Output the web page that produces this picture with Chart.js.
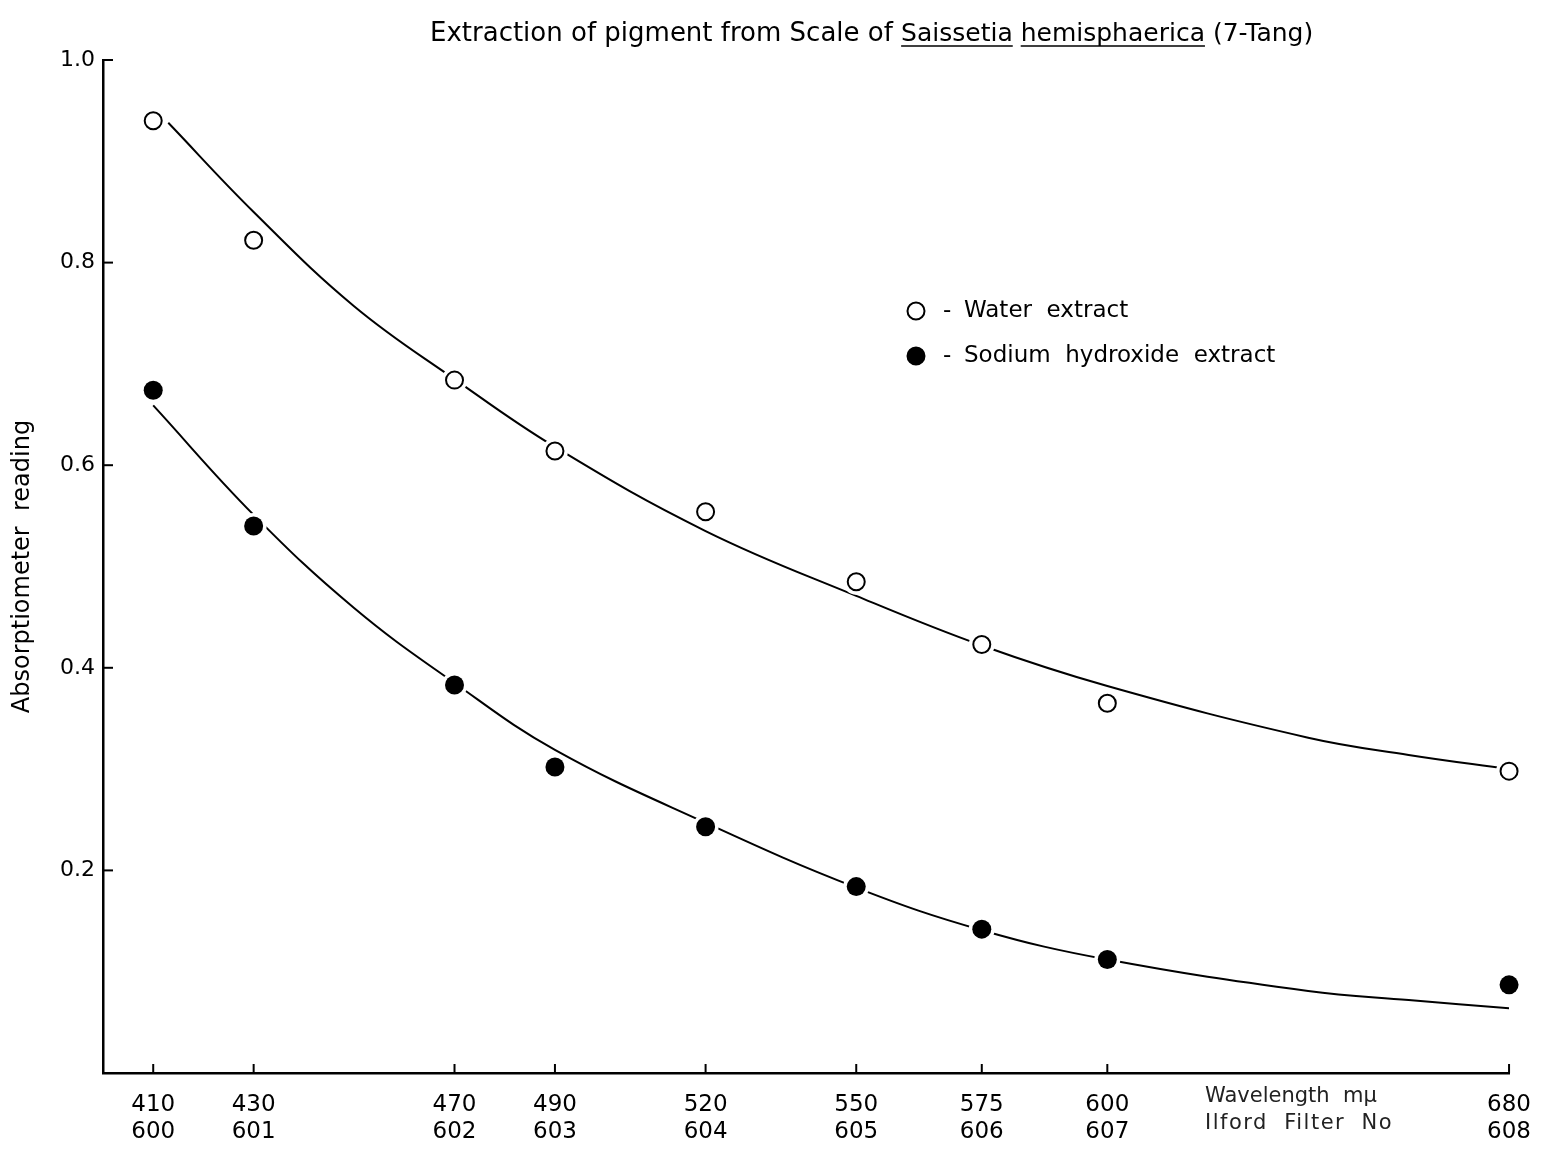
<!DOCTYPE html>
<html><head><meta charset="utf-8">
<script src="https://cdn.jsdelivr.net/npm/chart.js@4.4.1/dist/chart.umd.min.js"></script>
<style>html,body{margin:0;padding:0;background:#fff;}canvas{display:block;}</style>
</head><body>
<canvas id="c" width="1549" height="1149"></canvas>
<script>
// ---- data ----
const wavelengths = [410, 430, 470, 490, 520, 550, 575, 600, 680];
const filterNumbers = ['600', '601', '602', '603', '604', '605', '606', '607', '608'];
const waterExtract = [0.940, 0.822, 0.684, 0.614, 0.554, 0.485, 0.423, 0.365, 0.298];
const sodiumHydroxideExtract = [0.674, 0.540, 0.383, 0.302, 0.243, 0.184, 0.142, 0.112, 0.087];
// hand-drawn fitted curves
const waterCurveX = [413, 430, 450, 470, 490, 520, 550, 575, 600, 640, 660, 680];
const waterCurveY = [0.938, 0.850, 0.757, 0.685, 0.618, 0.535, 0.471, 0.422, 0.382, 0.331, 0.314, 0.300];
const sodiumCurveX = [410, 430, 450, 470, 490, 520, 550, 575, 600, 640, 660, 680];
const sodiumCurveY = [0.659, 0.551, 0.459, 0.385, 0.319, 0.247, 0.183, 0.141, 0.112, 0.081, 0.072, 0.064];
const yTickValues = [0.2, 0.4, 0.6, 0.8, 1.0];
const seriesNames = ['Water  extract', 'Sodium  hydroxide  extract'];
const axisTitleY = 'Absorptiometer  reading';
const axisNoteLines = ['Wavelength  m\u03bc', 'Ilford  Filter  No'];
const titleParts = [
  {text: 'Extraction of pigment from Scale of ', underline: false, size: 26},
  {text: 'Saissetia', underline: true, size: 25},
  {text: ' ', underline: false, size: 25},
  {text: 'hemisphaerica', underline: true, size: 25},
  {text: ' (7-Tang)', underline: false, size: 25}
];

const pts = (xs, ys) => xs.map((v, i) => ({x: v, y: ys[i]}));
const FONT = '"DejaVu Sans", "Liberation Sans", sans-serif';

const decor = {
  id: 'decor',
  afterDraw(chart) {
    const {ctx, chartArea: ca, scales: {x, y}} = chart;
    ctx.save();
    ctx.strokeStyle = '#000';
    ctx.fillStyle = '#000';
    ctx.lineWidth = 2;
    // inward tick marks
    wavelengths.forEach(v => {
      const px = x.getPixelForValue(v);
      ctx.beginPath(); ctx.moveTo(px, ca.bottom); ctx.lineTo(px, ca.bottom - 9); ctx.stroke();
    });
    yTickValues.forEach(v => {
      const py = y.getPixelForValue(v);
      ctx.beginPath(); ctx.moveTo(ca.left, py); ctx.lineTo(ca.left + 10, py); ctx.stroke();
    });
    // title with underlined species name
    ctx.textBaseline = 'alphabetic';
    ctx.textAlign = 'left';
    let tx = 430;
    const tb = 41;
    titleParts.forEach(p => {
      ctx.font = p.size + 'px ' + FONT;
      const w = ctx.measureText(p.text).width;
      ctx.fillText(p.text, tx, tb);
      if (p.underline) {
        ctx.lineWidth = 1.6;
        ctx.beginPath(); ctx.moveTo(tx, tb + 5); ctx.lineTo(tx + w, tb + 5); ctx.stroke();
      }
      tx += w;
    });
    // legend
    const ds = chart.data.datasets;
    const legendRows = [{y: 311, ds: ds[0], name: seriesNames[0]}, {y: 356, ds: ds[1], name: seriesNames[1]}];
    ctx.font = '23px ' + FONT;
    ctx.textBaseline = 'middle';
    legendRows.forEach(r => {
      ctx.beginPath();
      ctx.arc(916, r.y, 8.5, 0, Math.PI * 2);
      ctx.fillStyle = r.ds.pointBackgroundColor;
      ctx.fill();
      ctx.lineWidth = 2;
      ctx.strokeStyle = '#000';
      ctx.stroke();
      ctx.fillStyle = '#000';
      ctx.fillText('-', 943, r.y);
      ctx.fillText(r.name, 964, r.y);
    });
    // axis note (wavelength / filter rows)
    ctx.font = '21px ' + FONT;
    ctx.fillStyle = '#222';
    ctx.fillText(axisNoteLines[0], 1205, 1097);
    if ('letterSpacing' in ctx) ctx.letterSpacing = '1.5px';
    ctx.fillText(axisNoteLines[1], 1205, 1124);
    ctx.restore();
  }
};

new Chart(document.getElementById('c'), {
  type: 'scatter',
  data: {
    datasets: [
      {label: seriesNames[0], data: pts(wavelengths, waterExtract), pointRadius: 8.5, pointBorderWidth: 2,
       pointBackgroundColor: '#ffffff', pointBorderColor: '#000', showLine: false, order: 0, clip: false},
      {label: seriesNames[1], data: pts(wavelengths, sodiumHydroxideExtract), pointRadius: 9.5, pointBorderWidth: 0,
       pointBackgroundColor: '#000000', pointBorderColor: '#000', showLine: false, order: 0, clip: false},
      {label: 'halo1', data: pts(wavelengths, waterExtract), pointRadius: 13, pointBorderWidth: 0,
       pointBackgroundColor: '#fff', showLine: false, order: 1, clip: false},
      {label: 'halo2', data: pts(wavelengths, sodiumHydroxideExtract), pointRadius: 13, pointBorderWidth: 0,
       pointBackgroundColor: '#fff', showLine: false, order: 1, clip: false},
      {label: 'fit1', data: pts(waterCurveX, waterCurveY), showLine: true, pointRadius: 0, borderColor: '#000',
       borderWidth: 2, tension: 0.4, order: 2},
      {label: 'fit2', data: pts(sodiumCurveX, sodiumCurveY), showLine: true, pointRadius: 0, borderColor: '#000',
       borderWidth: 2, tension: 0.4, order: 2}
    ]
  },
  options: {
    responsive: false,
    animation: false,
    devicePixelRatio: 1,
    events: [],
    layout: {padding: {top: 60, right: 38, left: 0, bottom: 0}},
    plugins: {legend: {display: false}, tooltip: {enabled: false}, title: {display: false}},
    scales: {
      x: {
        type: 'linear', min: 400, max: 680,
        afterBuildTicks: s => { s.ticks = wavelengths.map(v => ({value: v})); },
        afterFit: s => { s.height = 76; },
        grid: {display: false, drawTicks: false},
        border: {display: true, color: '#000', width: 2.5},
        ticks: {
          autoSkip: false, maxRotation: 0, padding: 18, color: '#000',
          font: {family: FONT, size: 23, lineHeight: 1.2},
          callback: (v) => { const i = wavelengths.indexOf(v); return i < 0 ? '' : [String(v), filterNumbers[i]]; }
        }
      },
      y: {
        type: 'linear', min: 0, max: 1,
        afterBuildTicks: s => { s.ticks = yTickValues.map(v => ({value: v})); },
        afterFit: s => { s.width = 103; },
        grid: {display: false, drawTicks: false},
        border: {display: true, color: '#000', width: 2.5},
        title: {display: true, text: axisTitleY, color: '#000', font: {family: FONT, size: 24}, padding: {top: 8, bottom: 0}},
        ticks: {padding: 8, color: '#000', font: {family: FONT, size: 22}, callback: v => Number(v).toFixed(1)}
      }
    }
  },
  plugins: [decor]
});
</script>
</body></html>
